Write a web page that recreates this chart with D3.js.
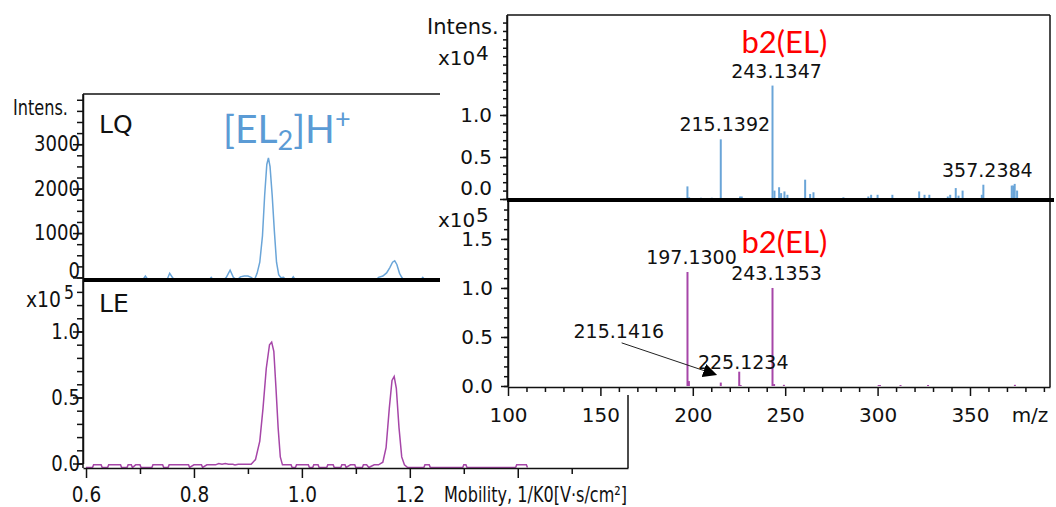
<!DOCTYPE html>
<html><head><meta charset="utf-8">
<script src="https://cdn.jsdelivr.net/npm/d3@7"></script>
<style>html,body{margin:0;padding:0;background:#fff;overflow:hidden}</style>
</head><body>
<svg id="c" width="1056" height="507"></svg>
<script>
// ---------------- DATA ----------------
// LQ mobilogram: [1/K0, intensity (counts)]
const lqTrace = [
 [0.600,0],[0.705,0],[0.710,90],[0.715,0],[0.750,0],[0.755,150],[0.761,40],[0.766,0],
 [0.828,0],[0.832,60],[0.836,0],[0.855,0],[0.860,60],[0.867,220],[0.873,60],[0.880,0],
 [0.886,70],[0.893,90],[0.900,90],[0.906,60],[0.912,0],[0.917,150],[0.922,400],[0.927,1000],
 [0.931,1900],[0.935,2600],[0.938,2750],[0.941,2550],[0.945,1900],[0.949,1100],[0.953,400],
 [0.957,120],[0.961,50],[0.966,60],[0.970,0],[0.980,0],[0.984,70],[0.988,0],[1.138,0],
 [1.142,60],[1.150,90],[1.157,160],[1.163,280],[1.168,400],[1.172,430],[1.176,350],[1.181,150],
 [1.185,60],[1.189,0],[1.220,0],[1.224,60],[1.228,0],[1.300,0]
];
// LE mobilogram: [1/K0, intensity x10^5]
const leTrace = [
 [0.600,0],[0.612,0],[0.614,0.02],[0.628,0.02],[0.630,0],[0.640,0],[0.642,0.02],[0.664,0.02],
 [0.666,0],[0.676,0],[0.678,0.02],[0.684,0.02],[0.686,0],[0.692,0.02],[0.700,0.02],[0.702,0],
 [0.722,0],[0.724,0.02],[0.742,0.02],[0.744,0],[0.752,0],[0.754,0.02],[0.790,0.02],[0.792,0],
 [0.800,0.02],[0.814,0.02],[0.816,0],[0.824,0.02],[0.840,0.02],[0.846,0.03],[0.852,0.025],
 [0.858,0.03],[0.864,0.025],[0.872,0.025],[0.876,0.02],[0.882,0.025],[0.906,0.025],[0.914,0.06],
 [0.922,0.2],[0.928,0.45],[0.934,0.75],[0.940,0.93],[0.944,0.95],[0.948,0.88],[0.952,0.6],
 [0.956,0.3],[0.960,0.08],[0.964,0.02],[0.980,0.02],[0.982,0],[0.988,0],[0.990,0.02],
 [1.012,0.02],[1.014,0],[1.020,0],[1.022,0.02],[1.030,0.02],[1.032,0],[1.046,0],[1.048,0.02],
 [1.058,0.02],[1.060,0],[1.072,0],[1.074,0.02],[1.080,0.02],[1.082,0],[1.090,0.02],[1.098,0.02],
 [1.100,0],[1.112,0],[1.114,0.02],[1.120,0.02],[1.124,0],[1.134,0.02],[1.142,0.02],[1.150,0.04],
 [1.156,0.15],[1.162,0.45],[1.167,0.66],[1.171,0.69],[1.175,0.6],[1.180,0.3],[1.185,0.08],
 [1.190,0.02],[1.196,0],[1.226,0],[1.228,0.02],[1.236,0.02],[1.238,0],[1.298,0],[1.300,0.02],
 [1.304,0.02],[1.306,0],[1.396,0],[1.398,0.02],[1.416,0.02],[1.418,0]
];
// Upper MS spectrum: [m/z, intensity x10^4]
const msTop = [
 [197.10,0.15],[198.0,0.02],[204.4,0.015],[210.3,0.015],[215.1392,0.71],[225.6,0.03],[226.5,0.03],
 [243.1347,1.35],[244.2,0.1],[246.7,0.14],[247.8,0.07],[249.6,0.09],[251.2,0.05],[260.8,0.23],
 [263.5,0.06],[265.3,0.08],[281.5,0.02],[295.0,0.03],[296.5,0.05],[300.0,0.05],[308.0,0.05],
 [322.5,0.09],[325.4,0.05],[328.0,0.05],[338.0,0.03],[339.3,0.05],[342.3,0.13],[343.8,0.04],
 [346.0,0.1],[356.4,0.05],[357.2384,0.17],[372.6,0.16],[373.4,0.16],[374.2,0.18],[375.5,0.1]
];
// Lower MS spectrum: [m/z, intensity x10^5]
const msBottom = [
 [197.1300,1.163],[197.9,0.05],[215.1416,0.035],[225.1234,0.146],[225.9,0.01],[243.1353,1.0],
 [244.0,0.02],[249.3,0.012],[300.6,0.01],[301.3,0.01],[312.4,0.01],[327.3,0.01],[374.3,0.012]
];
const topLabels = ["243.1347","215.1392","357.2384"];
const bottomLabels = ["197.1300","243.1353","225.1234"];
const arrowLabel = "215.1416";
const mobTicks = [0.6,0.7,0.8,0.9,1.0,1.1,1.2,1.3,1.4,1.5];
const mobTickLabels = [0.6,0.8,1.0,1.2];
const lqTickLabels = [0,1000,2000,3000];
const leTickLabels = [0.0,0.5,1.0];
const mzTickLabels = [100,150,200,250,300,350];
const msTopTickLabels = [0.0,0.5,1.0];
const msBotTickLabels = [0.0,0.5,1.0,1.5];

// ---------------- LAYOUT ----------------
const svg = d3.select("#c");
const BLUE = "#6aa5d8", PURPLE = "#a646a8", RED = "#ff0000";
const FONT = "'DejaVu Sans', Verdana, sans-serif";

const xL = d3.scaleLinear().domain([0.5944, 1.6043]).range([83, 628]);
const yLQ = d3.scaleLinear().domain([0, 4130]).range([277.5, 94]);
const yLE = d3.scaleLinear().domain([0, 1.39]).range([463.5, 280]);
const xR = d3.scaleLinear().domain([100, 393.3]).range([508, 1050]);
const yRT = d3.scaleLinear().domain([0, 2.19]).range([199, 15]);
const yRB = d3.scaleLinear().domain([0, 1.887]).range([386, 201]);

function condense(sel, f) {
  sel.each(function () {
    const w = this.getComputedTextLength();
    d3.select(this).attr("textLength", w * f).attr("lengthAdjust", "spacingAndGlyphs");
  });
}
function styleAxis(g, fs) {
  g.selectAll("path,line").attr("stroke", "#111").attr("stroke-width", 1.5);
  g.selectAll("text").attr("fill", "#111").attr("font-family", FONT).attr("font-size", fs);
  g.attr("font-family", FONT);
}
function yAxis(x, scale, step, majors, fmt, majLen, minLen, pad, fs, cond) {
  const [d0, d1] = scale.domain();
  const minor = d3.range(0, d1 + 1e-9, step);
  const gm = svg.append("g").attr("transform", `translate(${x},0)`)
    .call(d3.axisLeft(scale).tickValues(minor).tickSize(minLen).tickFormat("").tickSizeOuter(0));
  styleAxis(gm, fs);
  const g = svg.append("g").attr("transform", `translate(${x},0)`)
    .call(d3.axisLeft(scale).tickValues(majors).tickSize(majLen).tickPadding(pad).tickFormat(fmt).tickSizeOuter(0));
  styleAxis(g, fs);
  g.select(".domain").remove();
  if (cond) condense(g.selectAll("text"), cond);
  return g;
}

// ================= LEFT PANEL =================
svg.append("line").attr("x1", xL.range()[0]).attr("x2", xL.range()[1]).attr("y1", yLQ.range()[1]).attr("y2", yLQ.range()[1])
  .attr("stroke", "#111").attr("stroke-width", 1.5);
svg.append("line").attr("x1", xL.range()[1]).attr("x2", xL.range()[1]).attr("y1", yLQ.range()[1]).attr("y2", 468)
  .attr("stroke", "#111").attr("stroke-width", 1.5);

// traces (baselines sit on the axis lines as in the instrument export)
const lineLQ = d3.line().x(d => xL(d[0])).y(d => yLQ(d[1]));
svg.append("path").datum(lqTrace).attr("d", lineLQ).attr("transform", "translate(0,2.5)")
  .attr("fill", "none").attr("stroke", BLUE).attr("stroke-width", 1.5);
const lineLE = d3.line().x(d => xL(d[0])).y(d => yLE(d[1]));
svg.append("path").datum(leTrace).attr("d", lineLE).attr("transform", "translate(0,4)")
  .attr("fill", "none").attr("stroke", PURPLE).attr("stroke-width", 1.5);

// y axes
const gLQ = yAxis(83, yLQ, 250, lqTickLabels, d3.format("d"), 10, 6, -7, 21, 0.86);
gLQ.selectAll(".tick").filter(d => d === 0).select("text").attr("y", -7);
yAxis(83, yLE, 0.1, leTickLabels, d3.format(".1f"), 10, 6, -7, 21, 0.86);

// x axis
const gx = svg.append("g").attr("transform", "translate(0,468)")
  .call(d3.axisBottom(xL).tickValues(mobTicks).tickSize(0).tickFormat("").tickSizeOuter(0));
styleAxis(gx, 21);
gx.selectAll(".tick line").attr("y2", d => (Math.round(d * 10) % 2 === 0 ? 10 : 6));
const gxl = svg.append("g").attr("transform", "translate(0,468)")
  .call(d3.axisBottom(xL).tickValues(mobTickLabels).tickSize(0).tickPadding(19).tickFormat(d3.format(".1f")));
styleAxis(gxl, 21);
gxl.select(".domain").remove();
condense(gxl.selectAll("text"), 0.88);

svg.append("text").attr("x", 444).attr("y", 502).attr("font-family", FONT).attr("font-size", 21).attr("fill", "#111")
  .attr("textLength", 183).attr("lengthAdjust", "spacingAndGlyphs").text("Mobility, 1/K0[V·s/cm²]");

// axis titles
svg.append("text").attr("x", 68).attr("y", 115).attr("text-anchor", "end")
  .attr("font-family", FONT).attr("font-size", 21).attr("fill", "#111").text("Intens.")
  .attr("textLength", 55).attr("lengthAdjust", "spacingAndGlyphs");
svg.append("text").attr("x", 26).attr("y", 307).attr("font-family", FONT).attr("font-size", 21).attr("fill", "#111")
  .text("x10").attr("textLength", 35).attr("lengthAdjust", "spacingAndGlyphs");
svg.append("text").attr("x", 64).attr("y", 299).attr("font-family", FONT).attr("font-size", 20).attr("fill", "#111")
  .text("5").attr("textLength", 10).attr("lengthAdjust", "spacingAndGlyphs");

// panel labels
svg.append("text").attr("x", 99).attr("y", 133).attr("font-family", FONT).attr("font-size", 25).attr("fill", "#111").text("LQ");
svg.append("text").attr("x", 99).attr("y", 312).attr("font-family", FONT).attr("font-size", 25).attr("fill", "#111").text("LE");
const tEL = svg.append("text").attr("x", 223).attr("y", 143).attr("font-family", "Lato, 'Open Sans', sans-serif")
  .attr("font-size", 39).attr("fill", "#5b9bd5");
tEL.append("tspan").text("[EL");
tEL.append("tspan").attr("font-size", 27).attr("dy", 7).text("2");
tEL.append("tspan").attr("dy", -7).text("]H");
tEL.append("tspan").attr("font-size", 27).attr("dy", -15).text("+");

// separator
svg.append("line").attr("x1", 83).attr("x2", 628).attr("y1", 280).attr("y2", 280).attr("stroke", "#000").attr("stroke-width", 4);
svg.append("line").attr("x1", 83).attr("x2", 83).attr("y1", 94).attr("y2", 468).attr("stroke", "#111").attr("stroke-width", 1.5);

// ================= RIGHT PANEL (overlaid image) =================
svg.append("rect").attr("x", 440).attr("y", 0).attr("width", 616).attr("height", 395).attr("fill", "#fff");

svg.append("line").attr("x1", 507).attr("x2", xR.range()[1]).attr("y1", 15).attr("y2", 15).attr("stroke", "#111").attr("stroke-width", 1.5);
svg.append("line").attr("x1", xR.range()[1]).attr("x2", xR.range()[1]).attr("y1", 15).attr("y2", 387).attr("stroke", "#111").attr("stroke-width", 1.5);

// bars
svg.append("g").selectAll("line").data(msTop).join("line")
  .attr("x1", d => xR(d[0])).attr("x2", d => xR(d[0])).attr("y1", yRT(0)).attr("y2", d => yRT(d[1]))
  .attr("stroke", BLUE).attr("stroke-width", 2);
svg.append("g").selectAll("line").data(msBottom).join("line")
  .attr("x1", d => xR(d[0])).attr("x2", d => xR(d[0])).attr("y1", yRB(0)).attr("y2", d => yRB(d[1]))
  .attr("stroke", PURPLE).attr("stroke-width", 2);

// peak labels
function peakOf(arr, label) { return arr.find(p => Math.abs(p[0] - (+label)) < 0.001); }
svg.append("g").selectAll("text").data(topLabels).join("text")
  .attr("x", t => xR(peakOf(msTop, t)[0]) + 4).attr("y", t => yRT(peakOf(msTop, t)[1]) - 8)
  .attr("text-anchor", "middle").attr("font-family", FONT).attr("font-size", 19).attr("fill", "#111").text(t => t);
svg.append("g").selectAll("text").data(bottomLabels).join("text")
  .attr("x", t => xR(peakOf(msBottom, t)[0]) + 4)
  .attr("y", t => yRB(peakOf(msBottom, t)[1]) - (t === "225.1234" ? 3 : 8))
  .attr("text-anchor", "middle").attr("font-family", FONT).attr("font-size", 19).attr("fill", "#111").text(t => t);

// arrow annotation
svg.append("defs").append("marker").attr("id", "ah").attr("viewBox", "0 0 10 10").attr("refX", 9).attr("refY", 5)
  .attr("markerWidth", 14).attr("markerHeight", 14).attr("markerUnits", "userSpaceOnUse").attr("orient", "auto")
  .append("path").attr("d", "M0,0 L10,5 L0,10 z").attr("fill", "#000");
const ap = peakOf(msBottom, arrowLabel);
svg.append("text").attr("x", xR(160)).attr("y", yRB(0.49)).attr("text-anchor", "middle")
  .attr("font-family", FONT).attr("font-size", 19).attr("fill", "#111").text(arrowLabel);
svg.append("line").attr("x1", xR(161.5)).attr("y1", yRB(0.44)).attr("x2", xR(ap[0]) - 5).attr("y2", yRB(ap[1]) - 8)
  .attr("stroke", "#222").attr("stroke-width", 1).attr("marker-end", "url(#ah)");

// b2(EL) labels
const b2x = xR(243.13) - 31;
[yRT(1.74), yRB(1.36)].forEach(yy => {
  svg.append("text").attr("x", b2x).attr("y", yy).attr("font-family", "Lato, 'Open Sans', sans-serif")
    .attr("font-size", 31).attr("fill", RED).text("b2(EL)");
});

// y axes right
const gRT = yAxis(507, yRT, 0.1, msTopTickLabels, d3.format(".1f"), 7, 4, 8, 20, 0);
gRT.selectAll(".tick").filter(d => d === 0).select("text").attr("y", -11);
svg.append("line").attr("x1", 507).attr("x2", 507).attr("y1", 15).attr("y2", 199).attr("stroke", "#111").attr("stroke-width", 1.5);
yAxis(508, yRB, 0.1, msBotTickLabels, d3.format(".1f"), 7, 4, 8, 20, 0);
svg.append("line").attr("x1", 508).attr("x2", 508).attr("y1", 201).attr("y2", 387).attr("stroke", "#111").attr("stroke-width", 1.5);

// x axis right
const mzMinor = d3.range(100, 393, 10);
const gxr = svg.append("g").attr("transform", "translate(0,387)")
  .call(d3.axisBottom(xR).tickValues(mzMinor).tickSize(5).tickFormat("").tickSizeOuter(0));
styleAxis(gxr, 20);
gxr.selectAll(".tick line").attr("y2", d => (d % 50 === 0 ? 9 : 5));
const gxrl = svg.append("g").attr("transform", "translate(0,387)")
  .call(d3.axisBottom(xR).tickValues(mzTickLabels).tickSize(0).tickPadding(21).tickFormat(d3.format("d")));
styleAxis(gxrl, 20);
gxrl.select(".domain").remove();
svg.append("text").attr("x", 1030).attr("y", 422).attr("text-anchor", "middle").attr("font-family", FONT)
  .attr("font-size", 20).attr("fill", "#111").text("m/z");

// right titles
svg.append("text").attr("x", 427).attr("y", 34).attr("font-family", FONT).attr("font-size", 21).attr("fill", "#111").text("Intens.");
svg.append("text").attr("x", 438).attr("y", 65).attr("font-family", FONT).attr("font-size", 20).attr("fill", "#111").text("x10");
svg.append("text").attr("x", 476).attr("y", 60).attr("font-family", FONT).attr("font-size", 20).attr("fill", "#111").text("4");
svg.append("text").attr("x", 438).attr("y", 227).attr("font-family", FONT).attr("font-size", 20).attr("fill", "#111").text("x10");
svg.append("text").attr("x", 476).attr("y", 222).attr("font-family", FONT).attr("font-size", 20).attr("fill", "#111").text("5");

svg.append("line").attr("x1", 507).attr("x2", 1054).attr("y1", 200).attr("y2", 200).attr("stroke", "#000").attr("stroke-width", 4);
</script>
</body></html>
